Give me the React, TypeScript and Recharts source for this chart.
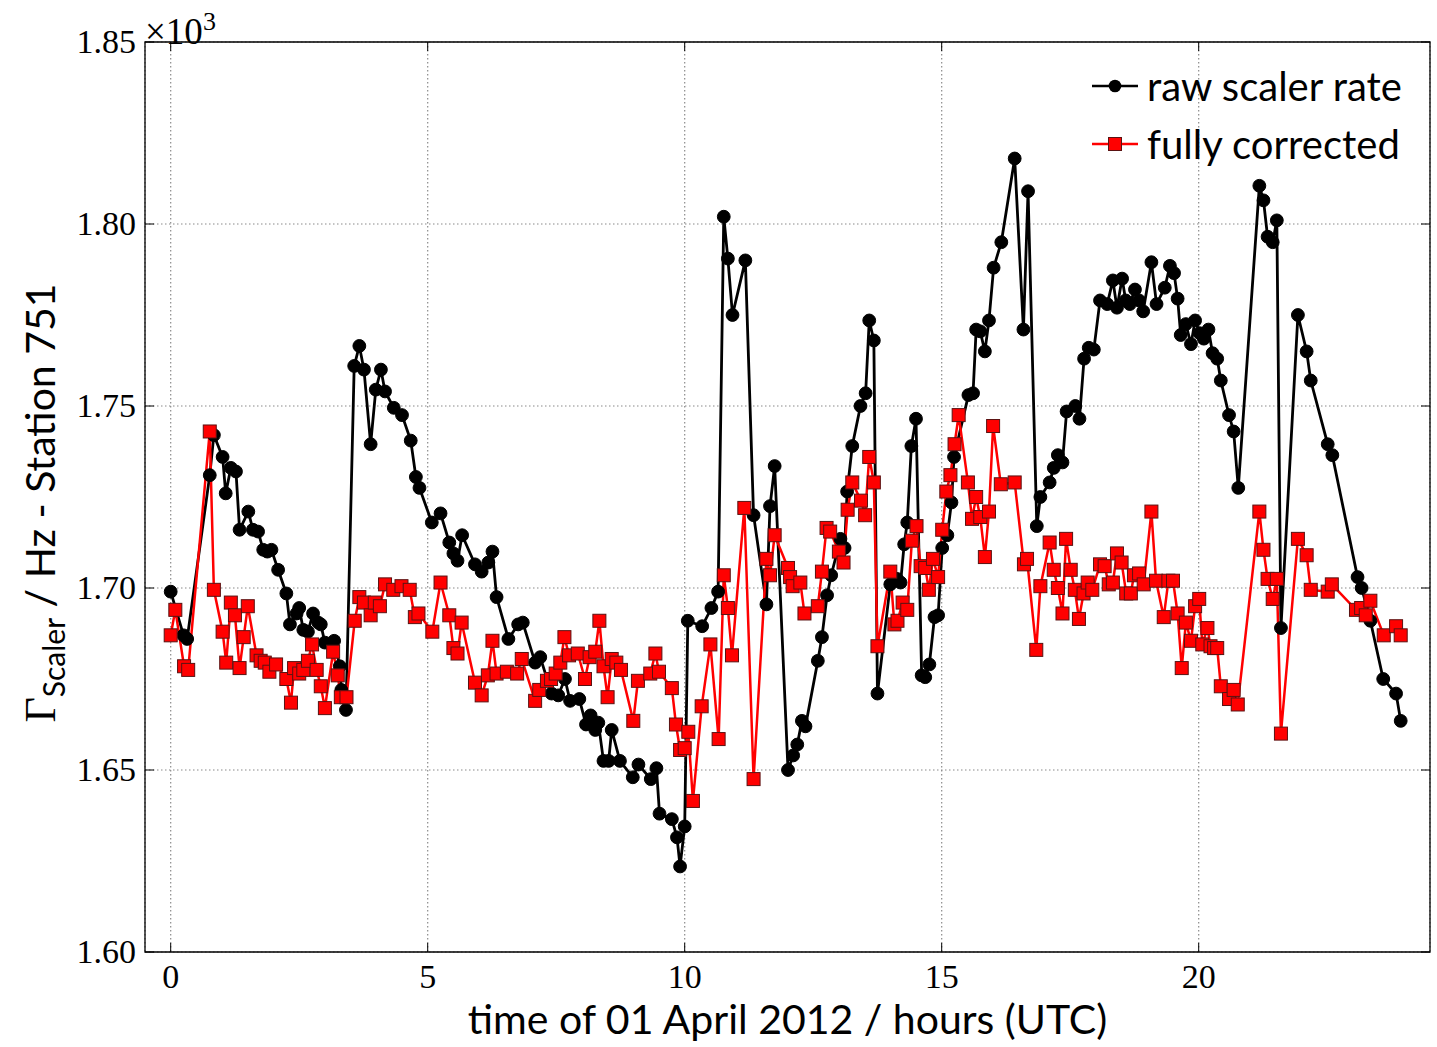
import {
  LineChart,
  Line,
  XAxis,
  YAxis,
  CartesianGrid,
  ReferenceArea,
  Legend,
  Customized,
} from "recharts";

// ---------------------------------------------------------------
// Scaler rate of station 751, 01 April 2012 (rates in Hz)
// ---------------------------------------------------------------
const rawHours = [
  0.0, 0.25, 0.32, 0.76, 0.84, 1.01, 1.07, 1.17, 1.27, 1.34, 1.51, 1.6, 1.7,
  1.8, 1.88, 1.96, 2.09, 2.25, 2.32, 2.45, 2.5, 2.58, 2.67, 2.77, 2.87, 2.92,
  3.0, 3.18, 3.29, 3.32, 3.41, 3.57, 3.67, 3.76, 3.89, 3.99, 4.09, 4.17, 4.34,
  4.5, 4.67, 4.77, 4.84, 5.08, 5.25, 5.42, 5.5, 5.58, 5.67, 5.92, 6.05, 6.18,
  6.26, 6.34, 6.57, 6.76, 6.85, 7.09, 7.19, 7.41, 7.54, 7.67, 7.77, 7.95, 8.08,
  8.17, 8.26, 8.32, 8.42, 8.52, 8.58, 8.74, 8.99, 9.1, 9.34, 9.45, 9.51, 9.75,
  9.85, 9.91, 10.0, 10.06, 10.34, 10.52, 10.65, 10.76, 10.84, 10.93, 11.18,
  11.34, 11.59, 11.66, 11.75, 12.01, 12.11, 12.19, 12.28, 12.35, 12.59, 12.67,
  12.77, 12.85, 13.03, 13.11, 13.16, 13.26, 13.42, 13.52, 13.59, 13.68, 13.75,
  14.0, 14.13, 14.2, 14.27, 14.33, 14.41, 14.5, 14.61, 14.68, 14.76, 14.86,
  14.93, 15.01, 15.11, 15.19, 15.24, 15.52, 15.61, 15.67, 15.75, 15.84, 15.92,
  16.01, 16.16, 16.42, 16.59, 16.68, 16.85, 16.92, 17.1, 17.18, 17.26, 17.35,
  17.43, 17.6, 17.68, 17.77, 17.86, 17.96, 18.08, 18.22, 18.33, 18.41, 18.51,
  18.58, 18.66, 18.76, 18.84, 18.92, 19.08, 19.18, 19.34, 19.44, 19.52, 19.59,
  19.65, 19.75, 19.85, 19.93, 20.02, 20.1, 20.19, 20.27, 20.36, 20.43, 20.59,
  20.68, 20.77, 21.18, 21.26, 21.34, 21.44, 21.52, 21.6, 21.93, 22.1, 22.18,
  22.51, 22.6, 23.09, 23.17, 23.34, 23.59, 23.84, 23.93,
];

const rawRate = [
  1699, 1687, 1686, 1731, 1742, 1736, 1726, 1733, 1732, 1716, 1721, 1716,
  1715.5, 1710.5, 1710, 1710.5, 1705, 1698.5, 1690, 1693, 1694.5, 1688.5, 1688,
  1693, 1690.5, 1690, 1685, 1685.5, 1678.5, 1672, 1666.5, 1761, 1766.5, 1760,
  1739.5, 1754.5, 1760, 1754, 1749.5, 1747.5, 1740.5, 1730.5, 1727.5, 1718,
  1720.5, 1712.5, 1709.5, 1707.5, 1714.5, 1706.5, 1704.5, 1707, 1710, 1697.5,
  1686, 1690, 1690.5, 1679.5, 1681, 1671, 1670.5, 1675, 1669, 1669.5, 1662.5,
  1665, 1661, 1663, 1652.5, 1652.5, 1661, 1652.5, 1648, 1651.5, 1647.5, 1650.5,
  1638, 1636.5, 1631.5, 1623.5, 1634.5, 1691, 1689.5, 1694.5, 1699, 1802,
  1790.5, 1775, 1790, 1720, 1695.5, 1722.5, 1733.5, 1650, 1654, 1657, 1663.5,
  1662, 1680, 1686.5, 1698, 1703.5, 1713.5, 1711, 1726.5, 1739, 1750, 1753.5,
  1773.5, 1768, 1671, 1701, 1702.5, 1701.5, 1712, 1718, 1739, 1746.5, 1676,
  1675.5, 1679, 1692, 1692.5, 1711, 1714.5, 1723.5, 1736, 1753, 1753.5, 1771,
  1770.5, 1765, 1773.5, 1788, 1795, 1818, 1771, 1809, 1717, 1725, 1729, 1733,
  1736.5, 1734.5, 1748.5, 1750, 1746.5, 1763, 1766, 1765.5, 1779, 1778, 1784.5,
  1777, 1785, 1779, 1778, 1782, 1779, 1776, 1789.5, 1778, 1782.5, 1788.5,
  1786.5, 1779.5, 1769.5, 1772.5, 1767, 1773.5, 1770, 1768.5, 1771, 1764.5,
  1763, 1757, 1747.5, 1743, 1727.5, 1810.5, 1806.5, 1796.5, 1795, 1801, 1689,
  1775, 1765, 1757, 1739.5, 1736.5, 1703, 1700, 1691, 1675, 1671, 1663.5,
];

const corrHours = [
  0.0, 0.09, 0.26, 0.34, 0.76, 0.84, 1.01, 1.08, 1.17, 1.25, 1.34, 1.42, 1.5,
  1.67, 1.75, 1.83, 1.92, 2.05, 2.25, 2.34, 2.4, 2.5, 2.58, 2.67, 2.75, 2.84,
  2.92, 3.0, 3.16, 3.25, 3.31, 3.42, 3.58, 3.67, 3.76, 3.89, 3.97, 4.07, 4.17,
  4.33, 4.49, 4.65, 4.75, 4.82, 5.09, 5.25, 5.42, 5.5, 5.58, 5.66, 5.92, 6.05,
  6.17, 6.26, 6.34, 6.54, 6.74, 6.83, 7.09, 7.17, 7.32, 7.4, 7.49, 7.58, 7.66,
  7.75, 7.92, 8.06, 8.15, 8.26, 8.34, 8.42, 8.5, 8.58, 8.67, 8.76, 9.0, 9.09,
  9.33, 9.43, 9.5, 9.75, 9.83, 9.91, 10.0, 10.07, 10.16, 10.33, 10.5, 10.66,
  10.76, 10.84, 10.92, 11.16, 11.34, 11.59, 11.66, 11.75, 12.01, 12.05, 12.1,
  12.25, 12.33, 12.59, 12.67, 12.76, 12.83, 13.0, 13.09, 13.17, 13.26, 13.43,
  13.51, 13.59, 13.68, 13.75, 14.0, 14.08, 14.14, 14.24, 14.33, 14.42, 14.51,
  14.59, 14.68, 14.75, 14.83, 14.93, 15.01, 15.09, 15.17, 15.25, 15.33, 15.51,
  15.59, 15.67, 15.75, 15.84, 15.92, 16.0, 16.15, 16.42, 16.6, 16.66, 16.84,
  16.92, 17.1, 17.18, 17.26, 17.35, 17.42, 17.51, 17.59, 17.67, 17.76, 17.84,
  17.93, 18.08, 18.17, 18.25, 18.33, 18.41, 18.5, 18.59, 18.68, 18.74, 18.84,
  18.93, 19.08, 19.17, 19.32, 19.41, 19.5, 19.59, 19.67, 19.75, 19.85, 19.93,
  20.01, 20.07, 20.17, 20.23, 20.3, 20.36, 20.43, 20.59, 20.68, 20.76, 21.18,
  21.26, 21.34, 21.44, 21.52, 21.6, 21.93, 22.1, 22.18, 22.51, 22.59, 23.06,
  23.16, 23.25, 23.34, 23.6, 23.84, 23.93,
];

const corrRate = [
  1687, 1694, 1678.5, 1677.5, 1743, 1699.5, 1688, 1679.5, 1696, 1692.5, 1678,
  1686.5, 1695, 1681.5, 1680, 1679.5, 1677, 1679, 1675, 1668.5, 1678, 1676.5,
  1677.5, 1680, 1684.5, 1677.5, 1673, 1667, 1682.5, 1676, 1670, 1670, 1691,
  1697.5, 1696, 1692.5, 1696, 1695, 1701, 1699.5, 1700.5, 1699.5, 1692, 1693,
  1688, 1701.5, 1692.5, 1683.5, 1682, 1690.5, 1674, 1670.5, 1676, 1685.5,
  1676.5, 1677, 1676.5, 1680.5, 1669, 1672, 1674.5, 1675, 1676.5, 1679.5,
  1686.5, 1681.5, 1682, 1675, 1681, 1682.5, 1691, 1678.5, 1670, 1680.5, 1679.5,
  1677.5, 1663.5, 1674.5, 1676.5, 1682, 1677, 1672.5, 1662.5, 1655.5, 1656,
  1660.5, 1641.5, 1667.5, 1684.5, 1658.5, 1703.5, 1694.5, 1681.5, 1722, 1647.5,
  1708, 1703.5, 1714.5, 1705.5, 1703, 1700.5, 1701.5, 1693, 1695, 1704.5,
  1716.5, 1715.5, 1710, 1707, 1721.5, 1729, 1724, 1720, 1736, 1729, 1684,
  1704.5, 1690, 1691, 1696, 1694, 1713, 1717, 1706, 1705.5, 1699.5, 1708, 1703,
  1716, 1726.5, 1731, 1739.5, 1747.5, 1729, 1719, 1725, 1719.5, 1708.5, 1721,
  1744.5, 1728.5, 1729, 1706.5, 1708, 1683, 1700.5, 1712.5, 1705, 1700, 1693,
  1713.5, 1705, 1699.5, 1691.5, 1698.5, 1701.5, 1699.5, 1706.5, 1706, 1701,
  1701.5, 1709.5, 1707, 1698.5, 1698.5, 1703.5, 1704, 1701, 1721, 1702, 1692,
  1702, 1702, 1693, 1678, 1690.5, 1685.5, 1695, 1697, 1684.5, 1689, 1684,
  1683.5, 1683.5, 1673, 1669.5, 1672, 1668, 1721, 1710.5, 1702.5, 1697, 1702.5,
  1660, 1713.5, 1709, 1699.5, 1699, 1701, 1694, 1694.5, 1692.5, 1696.5, 1687,
  1689.5, 1687,
];

const hourTicks = [0, 5, 10, 15, 20];
const rateTicks = [1600, 1650, 1700, 1750, 1800, 1850];
const seriesNames = ["raw scaler rate", "fully corrected"];

const rawData = rawHours.map((t, i) => ({ t, rate: rawRate[i] }));
const corrData = corrHours.map((t, i) => ({ t, rate: corrRate[i] }));

// figure geometry
const W = 1437;
const H = 1047;
const PLOT = { left: 145, right: 1430, top: 42, bottom: 952 };
const TICK_LEN = 9;

const SERIF = "'Liberation Serif', 'DejaVu Serif', serif";
const SANS = "Lato, 'Noto Sans', 'DejaVu Sans', sans-serif";

// inward ticks on both sides, label on the left
function RateTick({ y, payload }: any) {
  return (
    <g>
      <line x1={PLOT.left} x2={PLOT.left + TICK_LEN} y1={y} y2={y} stroke="#000" />
      <line x1={PLOT.right - TICK_LEN} x2={PLOT.right} y1={y} y2={y} stroke="#000" />
      <text
        x={PLOT.left - 9}
        y={y + 11}
        textAnchor="end"
        fontFamily={SERIF}
        fontSize={34}
        fill="#000"
      >
        {(payload.value / 1000).toFixed(2)}
      </text>
    </g>
  );
}

function HourTick({ x, payload }: any) {
  return (
    <g>
      <line x1={x} x2={x} y1={PLOT.bottom - TICK_LEN} y2={PLOT.bottom} stroke="#000" />
      <line x1={x} x2={x} y1={PLOT.top} y2={PLOT.top + TICK_LEN} stroke="#000" />
      <text
        x={x}
        y={PLOT.bottom + 36}
        textAnchor="middle"
        fontFamily={SERIF}
        fontSize={34}
        fill="#000"
      >
        {payload.value}
      </text>
    </g>
  );
}

function SquareDot(props: any) {
  const { cx, cy, index } = props;
  if (cx == null || cy == null) return <g key={`sq-${index}`} />;
  return (
    <rect
      key={`sq-${index}`}
      x={cx - 6.5}
      y={cy - 6.5}
      width={13}
      height={13}
      fill="#ff0000"
      stroke="#5a1212"
      strokeWidth={1}
    />
  );
}

function LegendBox() {
  const rows = [
    { name: seriesNames[0], color: "#000", square: false },
    { name: seriesNames[1], color: "#ff0000", square: true },
  ];
  return (
    <div style={{ display: "flex", flexDirection: "column", gap: 14 }}>
      {rows.map((r) => (
        <div key={r.name} style={{ display: "flex", alignItems: "center", height: 44 }}>
          <svg width={50} height={20}>
            <line x1={2} x2={48} y1={10} y2={10} stroke={r.color} strokeWidth={2.6} />
            {r.square ? (
              <rect x={18.5} y={3.5} width={13} height={13} fill="#ff0000" stroke="#5a1212" />
            ) : (
              <circle cx={25} cy={10} r={6.3} fill="#000" />
            )}
          </svg>
          <span
            style={{
              marginLeft: 7,
              fontFamily: SANS,
              fontSize: 40,
              lineHeight: "44px",
              color: "#000",
              whiteSpace: "nowrap",
            }}
          >
            {r.name}
          </span>
        </div>
      ))}
    </div>
  );
}

// axis titles and the x10^3 multiplier
function Titles() {
  return (
    <g>
      <text x={PLOT.left} y={PLOT.top + 2} fontFamily={SERIF} fontSize={37} fill="#000">
        ×10
        <tspan dy={-14} fontSize={26}>
          3
        </tspan>
      </text>
      <text
        x={(PLOT.left + PLOT.right) / 2}
        y={1034}
        textAnchor="middle"
        fontFamily={SANS}
        fontSize={41}
        fill="#000"
      >
        time of 01 April 2012 / hours (UTC)
      </text>
      <text
        transform="translate(55,503) rotate(-90)"
        textAnchor="middle"
        fontFamily={SANS}
        fontSize={41}
        fill="#000"
      >
        <tspan fontFamily={SERIF} fontSize={44}>Γ</tspan>
        <tspan dy={10} fontSize={30}>Scaler</tspan>
        <tspan dy={-10}> / Hz - Station 751</tspan>
      </text>
    </g>
  );
}

export default function App() {
  return (
    <div style={{ position: "absolute", left: 0, top: 0, width: W, height: H, background: "#fff" }}>
      <LineChart
        width={W}
        height={H}
        margin={{ top: PLOT.top, right: W - PLOT.right, bottom: 0, left: 0 }}
      >
        <CartesianGrid stroke="#8a8a8a" strokeDasharray="1.5 2.5" strokeWidth={1.2} />
        <XAxis
          type="number"
          dataKey="t"
          domain={[-0.5, 24.5]}
          ticks={hourTicks}
          allowDataOverflow
          axisLine={false}
          tickLine={false}
          tick={<HourTick />}
          height={H - PLOT.bottom}
        />
        <YAxis
          type="number"
          domain={[1600, 1850]}
          ticks={rateTicks}
          allowDataOverflow
          axisLine={false}
          tickLine={false}
          tick={<RateTick />}
          width={PLOT.left}
        />
        <ReferenceArea
          x1={-0.5}
          x2={24.5}
          y1={1600}
          y2={1850}
          fill="none"
          fillOpacity={0}
          stroke="#000"
          strokeWidth={1.3}
        />
        <Line
          data={rawData}
          dataKey="rate"
          name={seriesNames[0]}
          type="linear"
          stroke="#000"
          strokeWidth={2.8}
          dot={{ r: 6.4, fill: "#000", stroke: "#000", strokeWidth: 1 }}
          isAnimationActive={false}
        />
        <Line
          data={corrData}
          dataKey="rate"
          name={seriesNames[1]}
          type="linear"
          stroke="#ff0000"
          strokeWidth={2.5}
          dot={<SquareDot />}
          isAnimationActive={false}
        />
        <Legend
          layout="vertical"
          align="center"
          verticalAlign="middle"
          content={<LegendBox />}
          wrapperStyle={{ left: 1090, top: 64, width: 340, height: 110 }}
        />
        <Customized component={Titles} />
      </LineChart>
    </div>
  );
}
